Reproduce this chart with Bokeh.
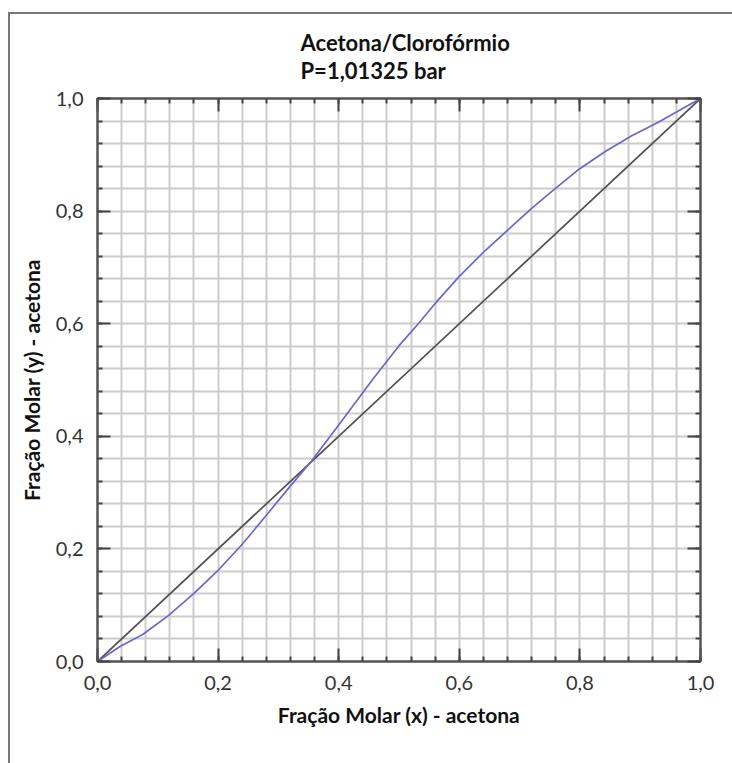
from bokeh.plotting import figure
from bokeh.layouts import column
from bokeh.models import (Range1d, FixedTicker, LinearAxis, Grid, Title,
                          CustomLabelingPolicy)
from bokeh.embed import file_html
from bokeh.resources import INLINE

# Liquid-vapour equilibrium, acetone / chloroform at 1.01325 bar
x_liquid = [0.0, 0.038, 0.075, 0.118, 0.159, 0.200, 0.239, 0.278, 0.320, 0.355,
            0.400, 0.455, 0.500, 0.532, 0.560, 0.600, 0.643, 0.682, 0.720, 0.759,
            0.798, 0.842, 0.886, 0.930, 1.0]
y_vapour = [0.0, 0.027, 0.048, 0.082, 0.120, 0.162, 0.207, 0.257, 0.312, 0.356,
            0.420, 0.499, 0.561, 0.600, 0.636, 0.684, 0.730, 0.768, 0.805, 0.840,
            0.874, 0.906, 0.934, 0.958, 1.0]

# 45-degree reference line y = x
x_diag = [0.0, 1.0]
y_diag = [0.0, 1.0]

major_ticks = [0.0, 0.2, 0.4, 0.6, 0.8, 1.0]
tick_labels = ["0,0", "0,2", "0,4", "0,6", "0,8", "1,0"]
fine_ticks = [round(i * 0.04, 2) for i in range(26)]

title_text = "Acetona/Clorofórmio"
subtitle_text = "P=1,01325 bar"
x_title = "Fração Molar (x) - acetona"
y_title = "Fração Molar (y) - acetona"

FONT = "Lato"
FRAME = "#555555"

p = figure(width=722, height=749, output_backend="svg", toolbar_location=None,
           x_range=Range1d(0, 1), y_range=Range1d(0, 1),
           x_axis_type=None, y_axis_type=None, title_location=None,
           min_border_left=87, min_border_right=32,
           min_border_top=84, min_border_bottom=102)
p.background_fill_color = "white"
p.border_fill_color = "white"
p.outline_line_color = FRAME
p.outline_line_width = 2

overrides = dict(zip(major_ticks, tick_labels))


def make_axis(show_labels, label=None):
    ax = LinearAxis(ticker=FixedTicker(ticks=major_ticks, minor_ticks=fine_ticks))
    ax.axis_line_color = FRAME
    ax.axis_line_width = 2
    ax.major_tick_in = 13
    ax.major_tick_out = 0
    ax.minor_tick_in = 5
    ax.minor_tick_out = 0
    ax.major_tick_line_color = "#444444"
    ax.major_tick_line_width = 2
    ax.minor_tick_line_color = "#444444"
    ax.minor_tick_line_width = 2
    ax.major_label_text_font = FONT
    ax.major_label_text_color = "#333333"
    if show_labels:
        ax.major_label_overrides = overrides
        ax.major_label_text_font_size = "20px"
        ax.major_label_standoff = 14
    else:
        # tick marks only on the opposite sides of the frame
        ax.major_label_policy = CustomLabelingPolicy(
            code="for (const i of indices) { indices.unset(i) } return indices")
        ax.major_label_text_font_size = "1px"
        ax.major_label_standoff = 0
    if label:
        ax.axis_label = label
        ax.axis_label_text_font = FONT
        ax.axis_label_text_font_size = "21px"
        ax.axis_label_text_font_style = "bold"
        ax.axis_label_text_color = "#111111"
        ax.axis_label_standoff = 9
    return ax


p.add_layout(make_axis(True, x_title), "below")
p.add_layout(make_axis(True, y_title), "left")
p.add_layout(make_axis(False), "above")
p.add_layout(make_axis(False), "right")

# fine grid every 0.04
for dim in (0, 1):
    p.add_layout(Grid(dimension=dim, ticker=FixedTicker(ticks=fine_ticks),
                      grid_line_color="#cccccc", grid_line_width=2), "center")

p.line(x_diag, y_diag, line_color="#505050", line_width=1.7)
p.line(x_liquid, y_vapour, line_color="#6868cc", line_width=1.7)

# two-line heading
p.add_layout(Title(text=title_text + "\n" + subtitle_text, align="left",
                   vertical_align="top",
                   offset=203, standoff=15, text_line_height=1.05,
                   text_font=FONT, text_font_size="22px", text_font_style="bold",
                   text_color="#111111"), "above")

# page frame drawn around the chart
page = column(p, styles={"border-left": "2px solid #777777",
                         "border-top": "2px solid #777777",
                         "margin-left": "8px", "margin-top": "12px"})

open("out.html", "w").write(file_html(page, INLINE))
